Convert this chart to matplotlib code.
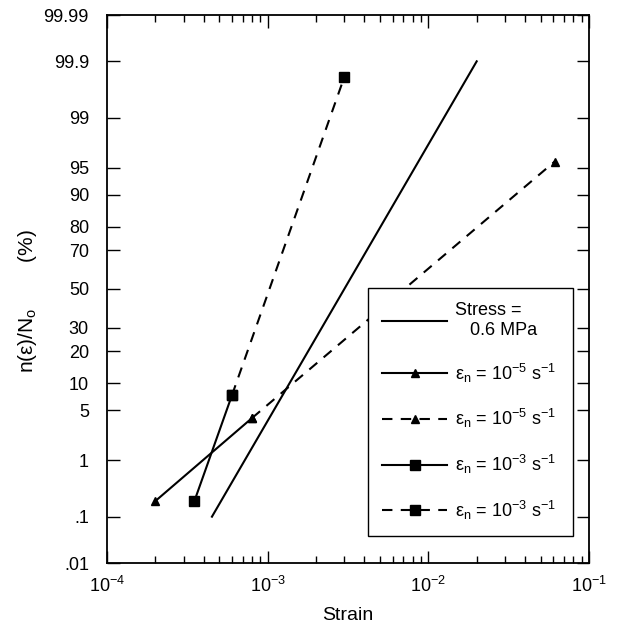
import numpy as np
import matplotlib
matplotlib.use('Agg')
from matplotlib import pyplot as plt
from matplotlib.ticker import FixedLocator, NullLocator, LogLocator, NullFormatter
from statistics import NormalDist

# data: strain vs cumulative fraction n(eps)/No in %
stress_x = [4.5e-4, 2.0e-2]
stress_y = [0.1, 99.9]
tri_solid_x = [2.0e-4, 8.0e-4]
tri_solid_y = [0.2, 4.0]
tri_dash_x = [8.0e-4, 6.1e-2]
tri_dash_y = [4.0, 95.8]
sq_solid_x = [3.5e-4, 6.0e-4]
sq_solid_y = [0.2, 7.5]
sq_dash_x = [6.0e-4, 3.0e-3]
sq_dash_y = [7.5, 99.8]

prob_ticks = [0.01, 0.1, 1, 5, 10, 20, 30, 50, 70, 80, 90, 95, 99, 99.9, 99.99]
prob_labels = ['.01', '.1', '1', '5', '10', '20', '30', '50', '70', '80', '90',
               '95', '99', '99.9', '99.99']
x_ticks = [1e-4, 1e-3, 1e-2, 1e-1]
x_labels = [r'10$^{-4}$', r'10$^{-3}$', r'10$^{-2}$', r'10$^{-1}$']

plt.rcParams['font.family'] = ['Liberation Sans', 'DejaVu Sans']
plt.rcParams['mathtext.fontset'] = 'custom'
plt.rcParams['mathtext.rm'] = 'Liberation Sans'
plt.rcParams['mathtext.it'] = 'Liberation Sans'
plt.rcParams['mathtext.bf'] = 'Liberation Sans:bold'

nd = NormalDist()


# normal probability scale, values in percent
def forward(p):
    p = np.clip(np.asarray(p, dtype=float) / 100., 1e-9, 1 - 1e-9)
    return np.vectorize(nd.inv_cdf, otypes=[float])(p)


def inverse(z):
    z = np.asarray(z, dtype=float)
    return np.vectorize(nd.cdf, otypes=[float])(z) * 100.


fig = plt.figure(figsize=(6.21, 6.26), dpi=100)
ax = fig.add_axes([107/621, 1-563/626, 482/621, 548/626])

ax.set_xscale('log')
ax.set_yscale('function', functions=(forward, inverse))

dash = (0, (5, 4))
eps = r'ε$_\mathregular{n}$ = 10$^\mathregular{%s}$ s$^\mathregular{-1}$'
ax.plot(stress_x, stress_y, '-', color='k', lw=1.5, label='Stress =\n   0.6 MPa')
ax.plot(tri_solid_x, tri_solid_y, '-', color='k', lw=1.5, marker='^', ms=6,
        label=eps % '-5')
ax.plot(tri_dash_x, tri_dash_y, color='k', ls=dash, lw=1.5, marker='^', ms=6,
        label=eps % '-5')
ax.plot(sq_solid_x, sq_solid_y, '-', color='k', lw=1.5, marker='s', ms=7,
        label=eps % '-3')
ax.plot(sq_dash_x, sq_dash_y, color='k', ls=dash, lw=1.5, marker='s', ms=7,
        label=eps % '-3')

ax.set_xlim(1e-4, 1e-1)
ax.set_ylim(0.01, 99.99)

ax.yaxis.set_major_locator(FixedLocator(prob_ticks))
ax.yaxis.set_minor_locator(NullLocator())
ax.set_yticklabels(prob_labels)
ax.set_xticks(x_ticks)
ax.set_xticklabels(x_labels)
ax.xaxis.set_minor_locator(LogLocator(base=10, subs=np.arange(2, 10)))
ax.xaxis.set_minor_formatter(NullFormatter())

ax.tick_params(which='major', direction='in', length=9, width=1, top=True, right=True,
               labelsize=13)
ax.tick_params(which='minor', direction='in', length=5, width=1, top=True, right=True)
ax.tick_params(axis='y', which='major', pad=13)
ax.tick_params(axis='x', which='major', pad=9)
for s in ax.spines.values():
    s.set_linewidth(1.3)

ax.set_xlabel('Strain', fontsize=14, labelpad=8)
fig.text(0.044, 0.519, r'n(ε)/N$_\mathregular{o}$        (%)', rotation=90,
         ha='center', va='center', fontsize=15)

leg = ax.legend(loc='lower left', bbox_to_anchor=(0.5415, 0.049, 0.425, 0.455),
                mode='expand', borderaxespad=0, fontsize=13, handlelength=3.6,
                numpoints=1, fancybox=False, edgecolor='k', framealpha=1,
                labelspacing=1.25, borderpad=0.8, handletextpad=0.4)
leg.get_frame().set_linewidth(1.0)

fig.savefig('out.png', dpi=100)
